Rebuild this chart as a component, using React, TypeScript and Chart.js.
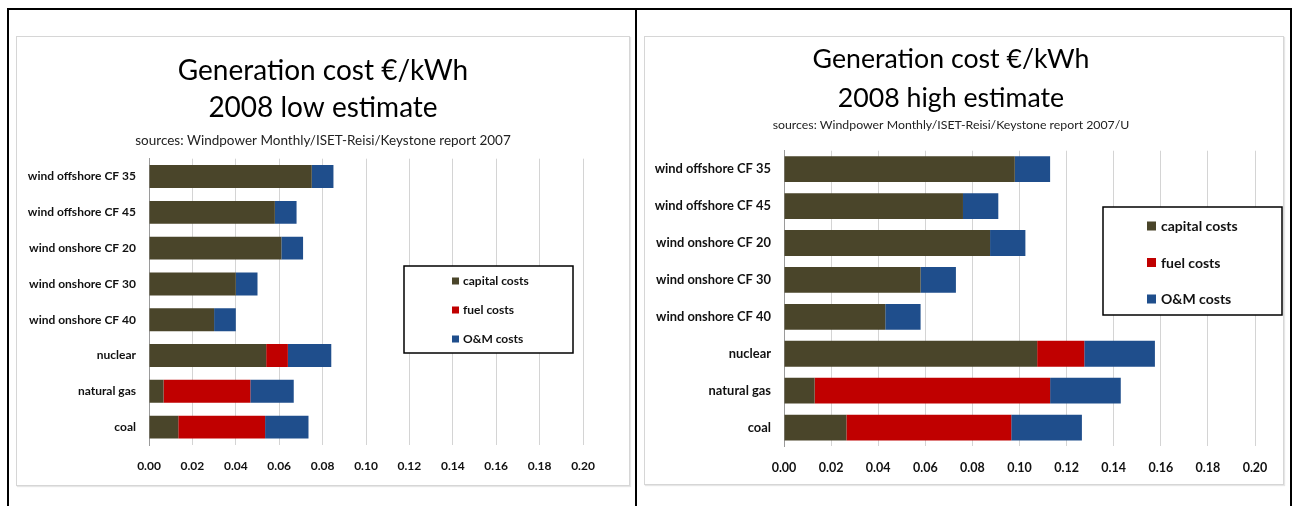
import React, { useEffect, useRef } from "react";
import { Chart, registerables } from "chart.js";

Chart.register(...registerables);

const categories = [
  "wind offshore CF 35",
  "wind offshore CF 45",
  "wind onshore CF 20",
  "wind onshore CF 30",
  "wind onshore CF 40",
  "nuclear",
  "natural gas",
  "coal",
];

const seriesLabels = ["capital costs", "fuel costs", "O&M costs"];
const seriesColors = ["#4A452A", "#C00000", "#1F4E8C"];

const lowCapital = [0.075, 0.058, 0.061, 0.04, 0.03, 0.054, 0.0067, 0.0135];
const lowFuel = [0, 0, 0, 0, 0, 0.01, 0.04, 0.04];
const lowOM = [0.01, 0.01, 0.01, 0.01, 0.01, 0.02, 0.02, 0.02];

const highCapital = [0.098, 0.076, 0.0875, 0.058, 0.043, 0.1075, 0.013, 0.0265];
const highFuel = [0, 0, 0, 0, 0, 0.02, 0.1, 0.07];
const highOM = [0.015, 0.015, 0.015, 0.015, 0.015, 0.03, 0.03, 0.03];

const xTickValues = [0, 0.02, 0.04, 0.06, 0.08, 0.1, 0.12, 0.14, 0.16, 0.18, 0.2];

const titleLine1 = "Generation cost €/kWh";
const lowTitle2 = "2008 low estimate";
const highTitle2 = "2008 high estimate";
const lowSource = "sources: Windpower Monthly/ISET-Reisi/Keystone report 2007";
const highSource = "sources: Windpower Monthly/ISET-Reisi/Keystone report 2007/U";

const FONT = "Lato, 'Open Sans', sans-serif";

const boxLegend = {
  id: "boxLegend",
  afterDraw(chart: any, _args: any, opts: any) {
    const { ctx } = chart;
    ctx.save();
    ctx.fillStyle = "#ffffff";
    ctx.fillRect(opts.x, opts.y, opts.w, opts.h);
    ctx.strokeStyle = "#000000";
    ctx.lineWidth = 1.5;
    ctx.strokeRect(opts.x, opts.y, opts.w, opts.h);
    ctx.font = `bold ${opts.fontSize}px ${FONT}`;
    const ds = chart.data.datasets;
    const left = opts.x + opts.itemLeft;
    ds.forEach((d: any, i: number) => {
      const cy = opts.y + opts.firstRow + i * opts.rowGap;
      ctx.fillStyle = d.backgroundColor;
      ctx.fillRect(left, cy - opts.marker / 2, opts.marker, opts.marker);
      ctx.fillStyle = "#111111";
      ctx.textBaseline = "middle";
      ctx.textAlign = "left";
      ctx.fillText(d.label, left + opts.marker + opts.gap, cy + 0.5);
    });
    ctx.restore();
  },
};

type Cfg = {
  capital: number[];
  fuel: number[];
  om: number[];
  title2: string;
  source: string;
  width: number;
  height: number;
  padLeft: number;
  padRight: number;
  rightSpace: number;
  padBottom: number;
  yWidth: number;
  titleSize: number;
  titleLH: number;
  titlePadTop: number;
  titlePadBottom: number;
  subSize: number;
  subPadBottom: number;
  catSize: number;
  tickSize: number;
  catPercent: number;
  legend: any;
};

function StackChart(p: Cfg) {
  const ref = useRef<HTMLCanvasElement>(null);
  useEffect(() => {
    if (!ref.current) return;
    const values = [p.capital, p.fuel, p.om];
    const scales: any = {
      x: {
        stacked: true,
        min: 0,
        max: 0.2,
        afterBuildTicks: (axis: any) => {
          axis.ticks = xTickValues.map((v) => ({ value: v }));
        },
        afterFit: (axis: any) => {
          axis.height = 34;
        },
        ticks: {
          color: "#111111",
          font: { family: FONT, size: p.tickSize, weight: "bold" },
          padding: 14,
          callback: (v: any) => Number(v).toFixed(2),
        },
        grid: { color: "#d4d4d4", drawTicks: false, lineWidth: 1 },
        border: { display: false },
      },
      y: {
        stacked: true,
        afterFit: (axis: any) => {
          axis.width = p.yWidth;
        },
        ticks: {
          color: "#111111",
          autoSkip: false,
          padding: 13,
          font: { family: FONT, size: p.catSize, weight: "bold" },
        },
        grid: { display: false, drawTicks: false },
        border: { display: true, color: "#9a9a9a", width: 1 },
      },
    };
    if (p.rightSpace > 0) {
      scales.yr = {
        type: "category",
        position: "right",
        display: true,
        afterFit: (axis: any) => {
          axis.width = p.rightSpace;
        },
        ticks: { display: false },
        grid: { display: false, drawTicks: false },
        border: { display: false },
      };
    }
    const chart = new Chart(ref.current, {
      type: "bar",
      data: {
        labels: categories,
        datasets: seriesLabels.map((lab, i) => ({
          label: lab,
          data: values[i],
          backgroundColor: seriesColors[i],
          borderWidth: 0,
          barPercentage: 1,
          categoryPercentage: p.catPercent,
        })),
      },
      plugins: [boxLegend],
      options: {
        indexAxis: "y",
        animation: false,
        responsive: false,
        maintainAspectRatio: false,
        layout: {
          padding: { left: p.padLeft, right: p.padRight, top: 0, bottom: p.padBottom },
        },
        plugins: {
          legend: { display: false },
          tooltip: { enabled: false },
          title: {
            display: true,
            text: [titleLine1, p.title2],
            color: "#000000",
            font: { family: FONT, size: p.titleSize, weight: "normal", lineHeight: p.titleLH },
            padding: { top: p.titlePadTop, bottom: p.titlePadBottom },
          },
          subtitle: {
            display: true,
            text: p.source,
            color: "#222222",
            font: { family: FONT, size: p.subSize, weight: "normal", lineHeight: 1.2 },
            padding: { top: 0, bottom: p.subPadBottom },
          },
          boxLegend: p.legend,
        } as any,
        scales,
      } as any,
    });
    return () => chart.destroy();
  }, []);
  return <canvas ref={ref} width={p.width} height={p.height} style={{ display: "block", width: p.width, height: p.height }} />;
}

export default function App() {
  const line = "#000000";
  return (
    <div
      style={{
        position: "fixed",
        left: 0,
        top: 0,
        width: 1299,
        height: 506,
        background: "#ffffff",
        overflow: "hidden",
      }}
    >
      <div style={{ position: "absolute", left: 7, top: 8, width: 1285, height: 2, background: line }} />
      <div style={{ position: "absolute", left: 7, top: 8, width: 2, height: 498, background: line }} />
      <div style={{ position: "absolute", left: 635, top: 8, width: 2, height: 498, background: line }} />
      <div style={{ position: "absolute", left: 1290, top: 8, width: 2, height: 498, background: line }} />

      <div style={{ position: "absolute", left: 16, top: 36, border: "1px solid #d6d6d6", boxShadow: "1px 1px 1px #e6e6e6" }}>
        <StackChart
          capital={lowCapital}
          fuel={lowFuel}
          om={lowOM}
          title2={lowTitle2}
          source={lowSource}
          width={612}
          height={448}
          padLeft={0}
          padRight={0}
          rightSpace={46}
          padBottom={6}
          yWidth={132}
          titleSize={28}
          titleLH={1.33}
          titlePadTop={15}
          titlePadBottom={6}
          subSize={13.5}
          subPadBottom={10}
          catSize={12}
          tickSize={12}
          catPercent={0.64}
          legend={{ x: 387, y: 229, w: 169, h: 87, itemLeft: 48, firstRow: 15, rowGap: 29, marker: 7, gap: 4, fontSize: 12 }}
        />
      </div>

      <div style={{ position: "absolute", left: 644, top: 36, border: "1px solid #d6d6d6", boxShadow: "1px 1px 1px #e6e6e6" }}>
        <StackChart
          capital={highCapital}
          fuel={highFuel}
          om={highOM}
          title2={highTitle2}
          source={highSource}
          width={638}
          height={447}
          padLeft={2}
          padRight={28}
          rightSpace={0}
          padBottom={4}
          yWidth={137}
          titleSize={26.7}
          titleLH={1.46}
          titlePadTop={3}
          titlePadBottom={0}
          subSize={12.3}
          subPadBottom={18}
          catSize={12.9}
          tickSize={12.5}
          catPercent={0.7}
          legend={{ x: 458, y: 170, w: 179, h: 108, itemLeft: 44, firstRow: 19, rowGap: 36.5, marker: 9, gap: 5, fontSize: 14 }}
        />
      </div>
    </div>
  );
}
